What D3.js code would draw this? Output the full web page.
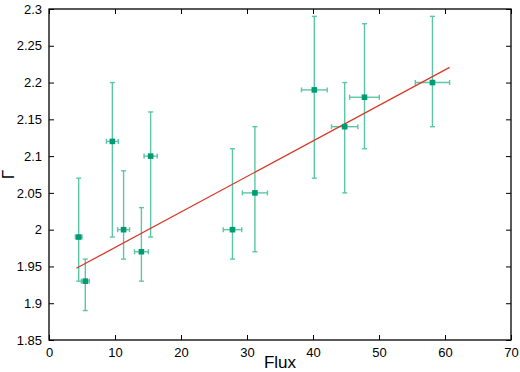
<!DOCTYPE html>
<html><head><meta charset="utf-8">
<script src="https://cdn.jsdelivr.net/npm/d3@7"></script>
<style>body{margin:0;background:#fff}svg{display:block}text{font-family:"Liberation Sans",Arial,sans-serif;fill:#000}</style>
</head><body>
<script>
const fluxValues = [4.5, 5.5, 9.6, 11.3, 14.0, 15.4, 27.8, 31.2, 40.2, 44.8, 47.8, 58.1];
const fluxErrors = [0.5, 0.6, 0.9, 0.9, 1.05, 1.0, 1.4, 1.9, 1.95, 2.0, 2.25, 2.6];
const gammaValues = [1.99, 1.93, 2.12, 2.00, 1.97, 2.10, 2.00, 2.05, 2.19, 2.14, 2.18, 2.20];
const gammaLow = [1.93, 1.89, 1.99, 1.96, 1.93, 1.99, 1.96, 1.97, 2.07, 2.05, 2.11, 2.14];
const gammaHigh = [2.07, 1.96, 2.20, 2.08, 2.03, 2.16, 2.11, 2.14, 2.29, 2.20, 2.28, 2.29];
const fitX = [4.15, 60.7];
const fitY = [1.9475, 2.2206];
const xTicks = [0, 10, 20, 30, 40, 50, 60, 70];
const yTicks = [1.85, 1.9, 1.95, 2, 2.05, 2.1, 2.15, 2.2, 2.25, 2.3];

const W = 520, H = 372;
const m = {l: 49, r: 9, t: 9, b: 32};
const svg = d3.select("body").append("svg").attr("width", W).attr("height", H);
const x = d3.scaleLinear().domain([0, 70]).range([m.l, W - m.r]);
const y = d3.scaleLinear().domain([1.85, 2.3]).range([H - m.b, m.t]);

const tl = 5;
const fmt = d => String(d);
svg.append("g").attr("transform", `translate(0,${H - m.b})`)
  .call(d3.axisBottom(x).tickValues(xTicks).tickSizeInner(-tl).tickSizeOuter(0).tickPadding(8).tickFormat(fmt));
svg.append("g").attr("transform", `translate(0,${m.t})`)
  .call(d3.axisTop(x).tickValues(xTicks).tickSizeInner(-tl).tickSizeOuter(0).tickFormat(""));
svg.append("g").attr("transform", `translate(${m.l},0)`)
  .call(d3.axisLeft(y).tickValues(yTicks).tickSizeInner(-tl).tickSizeOuter(0).tickPadding(7).tickFormat(fmt));
svg.append("g").attr("transform", `translate(${W - m.r},0)`)
  .call(d3.axisRight(y).tickValues(yTicks).tickSizeInner(-tl).tickSizeOuter(0).tickFormat(""));
svg.selectAll(".domain").remove();
svg.selectAll(".tick line").attr("stroke", "#000").attr("stroke-width", 1);
svg.selectAll(".tick text").style("font-size", "13px").attr("fill", "#000");
svg.append("rect").attr("x", x(0)).attr("y", y(2.3)).attr("width", x(70) - x(0)).attr("height", y(1.85) - y(2.3))
  .attr("fill", "none").attr("stroke", "#000").attr("stroke-width", 1.3);

const idx = d3.range(fluxValues.length);
const ec = "#5cc7a6", cap = 2.5;
const g = svg.append("g").attr("stroke", ec).attr("stroke-width", 1.4);
idx.forEach(i => {
  const cx = x(fluxValues[i]), cy = y(gammaValues[i]);
  const x0 = x(fluxValues[i] - fluxErrors[i]), x1 = x(fluxValues[i] + fluxErrors[i]);
  const y0 = y(gammaLow[i]), y1 = y(gammaHigh[i]);
  g.append("line").attr("x1", cx).attr("x2", cx).attr("y1", y0).attr("y2", y1);
  g.append("line").attr("x1", cx - cap).attr("x2", cx + cap).attr("y1", y0).attr("y2", y0);
  g.append("line").attr("x1", cx - cap).attr("x2", cx + cap).attr("y1", y1).attr("y2", y1);
  g.append("line").attr("x1", x0).attr("x2", x1).attr("y1", cy).attr("y2", cy);
  g.append("line").attr("x1", x0).attr("x2", x0).attr("y1", cy - cap).attr("y2", cy + cap);
  g.append("line").attr("x1", x1).attr("x2", x1).attr("y1", cy - cap).attr("y2", cy + cap);
});

svg.append("path").datum(d3.zip(fitX, fitY))
  .attr("d", d3.line().x(d => x(d[0])).y(d => y(d[1])))
  .attr("stroke", "#d9392b").attr("stroke-width", 1.3).attr("fill", "none");

svg.selectAll("rect.pt").data(idx).enter().append("rect").attr("class", "pt")
  .attr("x", i => x(fluxValues[i]) - 2.8).attr("y", i => y(gammaValues[i]) - 2.8)
  .attr("width", 5.6).attr("height", 5.6).attr("fill", "#009b72");

svg.append("text").attr("x", (x(0) + x(70)) / 2).attr("y", 368).attr("text-anchor", "middle")
  .style("font-size", "17px").text("Flux");
svg.append("text").attr("transform", `translate(14,${(y(1.85) + y(2.3)) / 2}) rotate(-90)`)
  .attr("text-anchor", "middle").style("font-size", "17px").text("Γ");
</script>
</body></html>
